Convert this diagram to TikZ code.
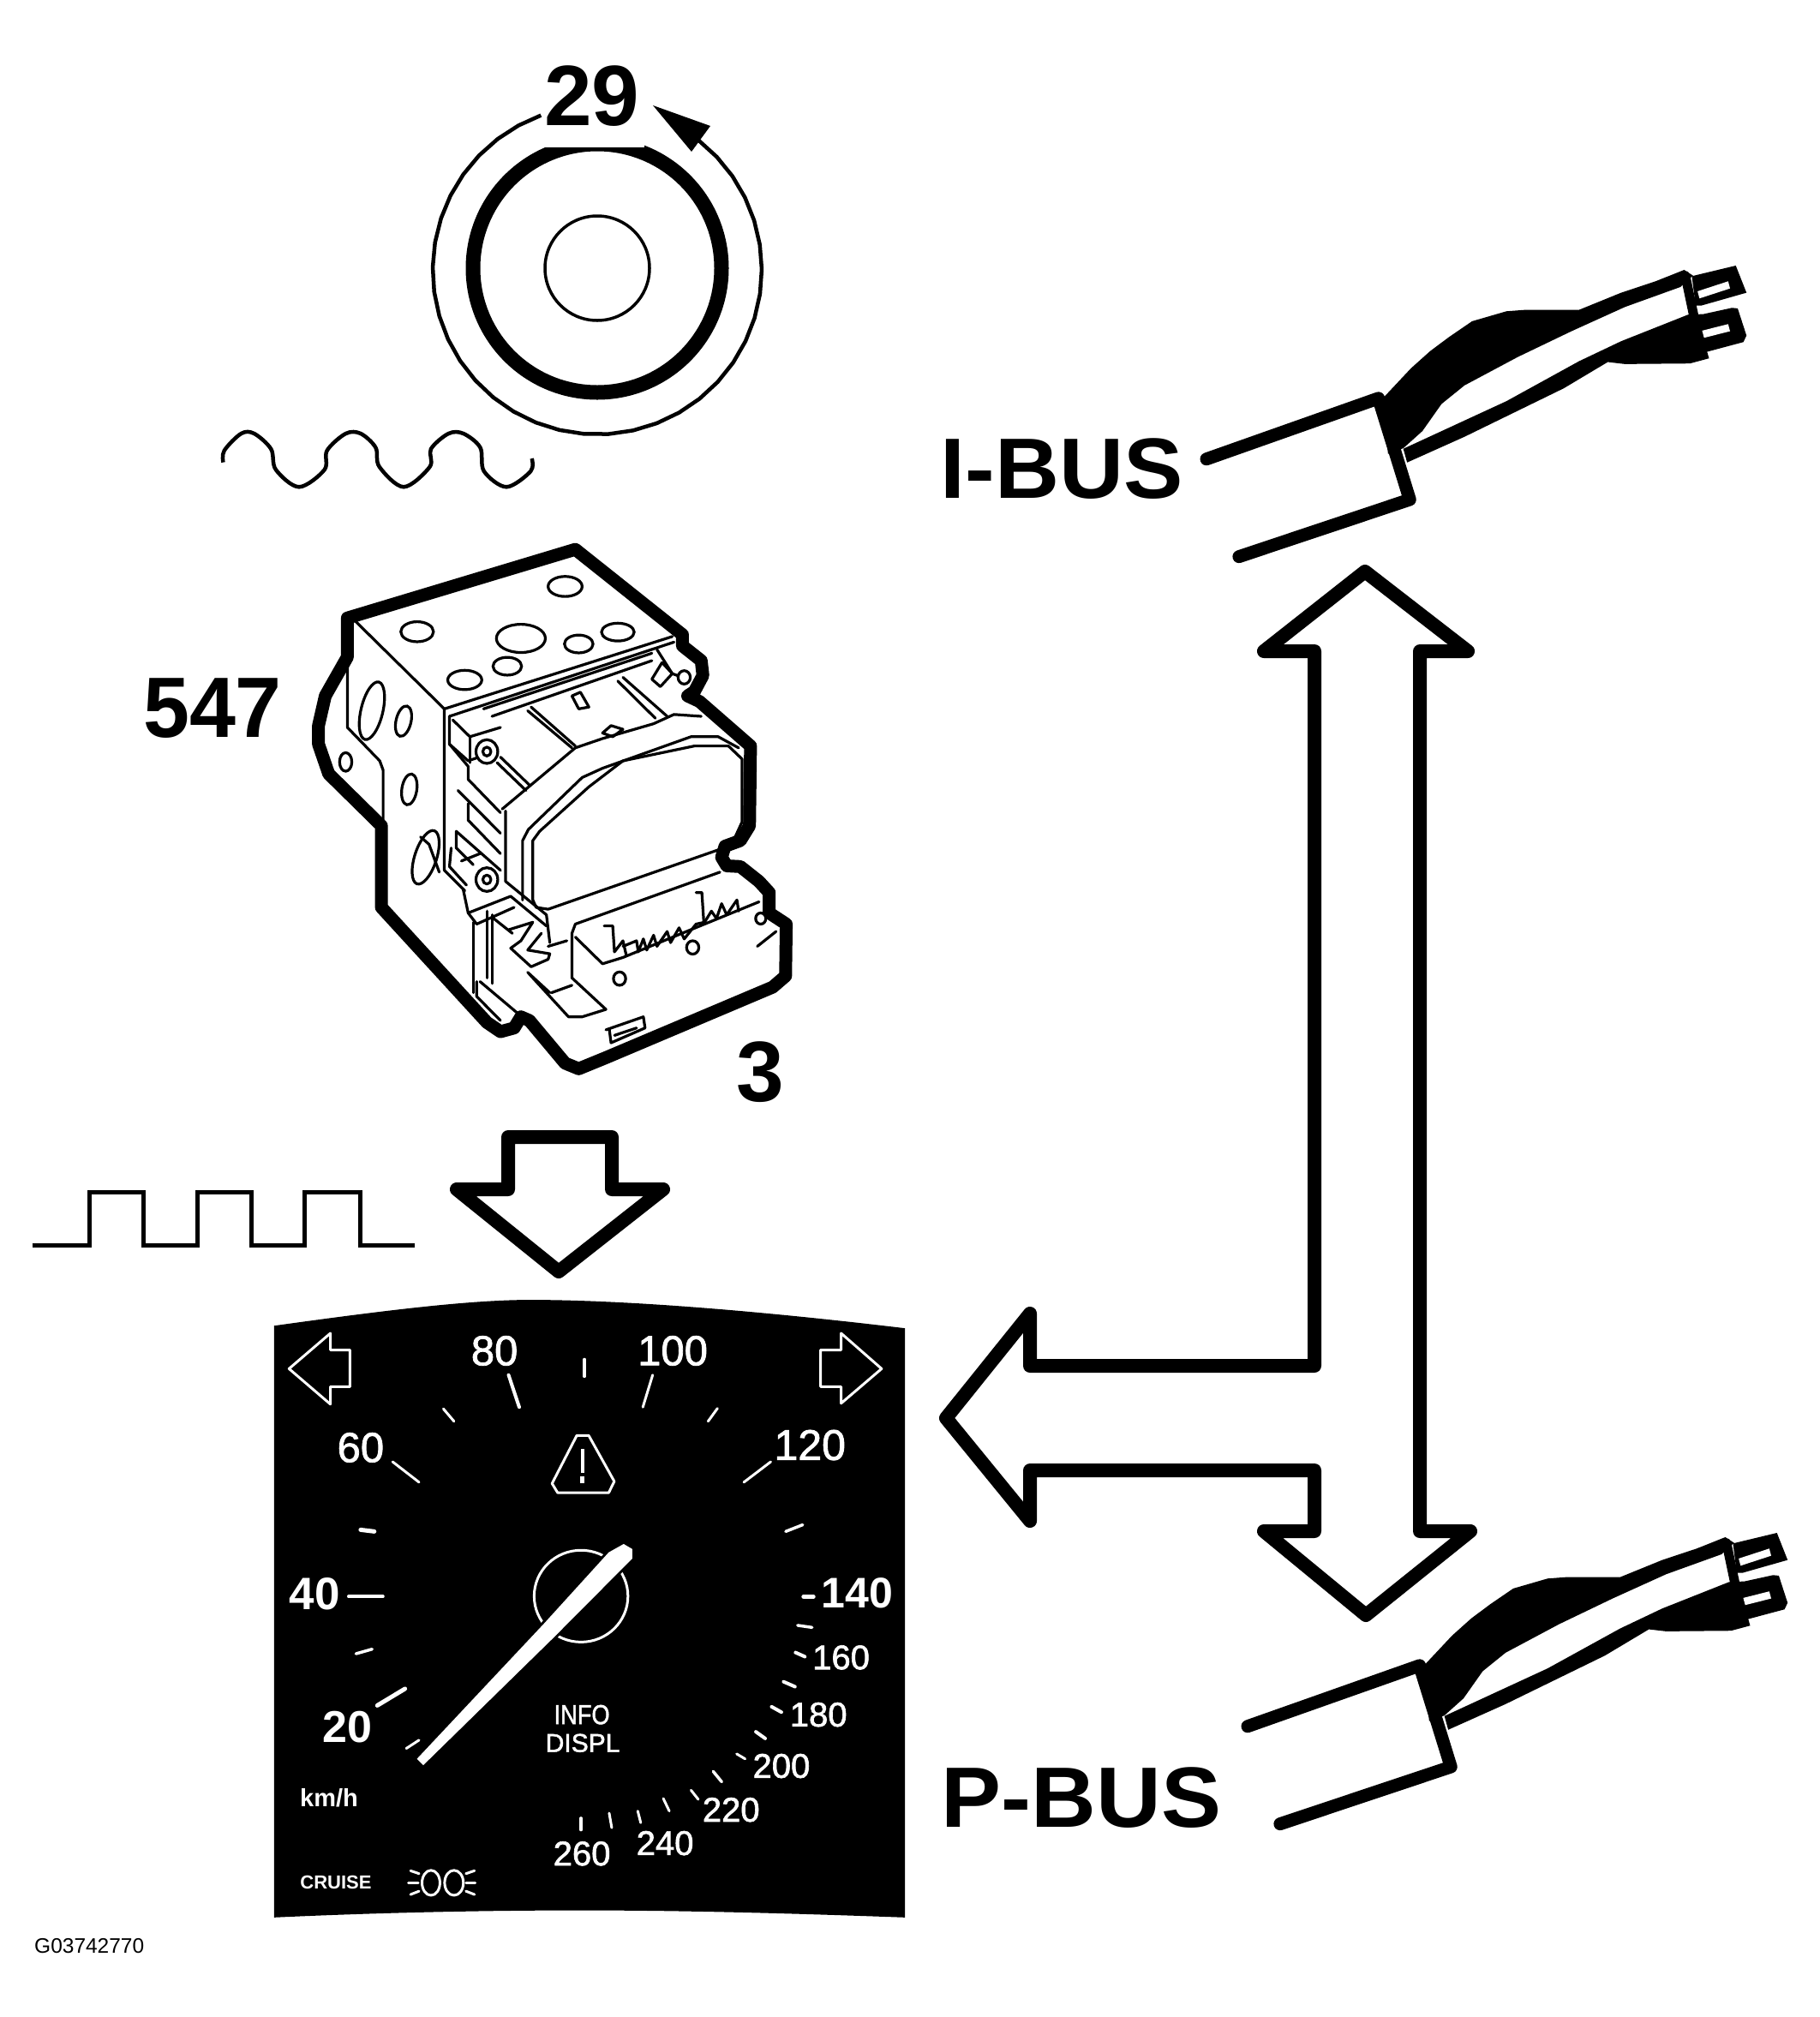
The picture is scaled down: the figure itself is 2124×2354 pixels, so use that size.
\documentclass[tikz,border=0pt]{standalone}
\usepackage{fontspec}
\usepackage{graphicx}
\setmainfont{Liberation Sans}
\newfontfamily\medf[FakeBold=1.6]{Liberation Sans}
\usetikzlibrary{calc}
\newcommand\fsz[1]{\fontsize{#1}{#1}\selectfont}
\tikzset{
  ln/.style={line width=#1,line join=round,line cap=round},
  big/.style={font=\bfseries\fsz{100},inner sep=0pt,anchor=base,text=black},
  dial/.style={font=\medf\fsz{#1},inner sep=0pt,text=white},
  dialb/.style={font=\bfseries\fsz{#1},inner sep=0pt,text=white},
  wt/.style={draw=white,line width=#1,line join=round,line cap=round},
  absl/.style={draw=black,line width=3.2pt,line join=round,line cap=round},
  hole/.style={draw=black,line width=3.2pt,fill=white},
}
\newcommand\busplug{
  \draw[ln=15pt] (65,738) -- (515,525) -- (597,880) -- (150,1080);
  \fill (530,520) -- (600,420) -- (650,360) -- (700,310) -- (760,255) -- (850,220) -- (900,215) -- (1040,215) -- (1150,155) -- (1240,115) -- (1315,75) -- (1338,95) -- (1305,135) -- (1160,205) -- (1020,290) -- (880,380) -- (740,480) -- (680,545) -- (630,640) -- (580,700) -- (540,720) -- cycle;
  \fill (580,702) -- (850,535) -- (1040,395) -- (1150,325) -- (1325,232) -- (1365,230) -- (1440,208) -- (1455,210) -- (1478,305) -- (1470,328) -- (1375,362) -- (1380,385) -- (1330,403) -- (1160,405) -- (1115,398) -- (1000,490) -- (740,660) -- (590,750) -- cycle;
  \draw[line width=11pt,line cap=round] (1318,95) -- (1340,235);
  \fill (1335,97) -- (1450,60) -- (1478,155) -- (1360,200) -- (1345,200) -- cycle;
  \fill[white] (1350,150) -- (1430,115) -- (1435,140) -- (1355,175) -- cycle;
  \fill[white] (1362,288) -- (1430,265) -- (1435,290) -- (1367,313) -- cycle;
}
\begin{document}
\begin{tikzpicture}[x=1pt,y=-1pt]
\useasboundingbox (0,0) rectangle (2124,2354);
\fill[white] (0,0) rectangle (2124,2354);

% rotor wheel
\coordinate (hub) at (697,313);
\draw[line width=17pt] (hub) circle[radius=145pt];
\fill[white] (632,120) rectangle (752,172);
\draw[line width=3.5pt] (hub) circle[radius=61pt];
\draw[line width=4.5pt,line join=round] plot[domain=-52:250,samples=36] ({697+192*cos(\x)},{315+192*sin(\x)});
\fill (762,123) -- (829,147) -- (807,177) -- cycle;
\node[big] (n29) at (691,146) {29};

% sine wave
\begin{scope}[shift={(240,50)},xscale=.436,yscale=.346]
\draw[ln=4.5pt,line cap=butt] plot[smooth,tension=.55] coordinates {(47,1415) (50,1375) (95,1318) (130,1318) (175,1370) (188,1440) (250,1498) (318,1440) (325,1375) (375,1318) (415,1318) (455,1365) (465,1430) (530,1498) (600,1430) (603,1370) (650,1318) (690,1318) (735,1365) (745,1445) (805,1498) (870,1445) (873,1402)};
\end{scope}

\node[big] (n547) at (248,860) {\scalebox{.97}[1]{547}};
\node[big] (n3) at (887,1285) {3};

% hydraulic unit
\begin{scope}[shift={(330,600)},xscale=.397,yscale=.433]
\draw[ln=15pt,fill=white] (190,280) -- (860,95) -- (1175,325) -- (1175,355) -- (1230,395) -- (1235,435) -- (1210,478) -- (1190,490) -- (1225,505) -- (1375,625) -- (1372,840) -- (1345,880) -- (1300,895) -- (1290,925) -- (1305,948) -- (1345,950) -- (1400,990) -- (1430,1020) -- (1430,1075) -- (1480,1105) -- (1478,1245) -- (1440,1275) -- (950,1465) -- (870,1495) -- (830,1480) -- (725,1365) -- (700,1355) -- (680,1385) -- (640,1395) -- (600,1370) -- (290,1060) -- (290,840) -- (135,700) -- (105,620) -- (105,570) -- (125,490) -- (190,385) -- cycle;
% top face
\draw[absl] (215,290) -- (475,525) -- (475,960) -- (535,1015);
\draw[absl] (190,395) -- (190,575) -- (285,665) -- (295,690) -- (295,825);
\draw[absl] (475,525) -- (1145,330);
\draw[absl] (490,545) -- (1150,345);
\draw[absl] (590,525) -- (1085,375);
\draw[absl] (615,545) -- (1085,395);
\foreach \a/\b/\c/\d in {395/317/48/27,700/335/72/38,870/350/42/24,985/318/48/24,660/410/42/24,535/447/50/26,830/195/50/27}{
  \draw[hole] (\a,\b) ellipse[x radius=\c pt,y radius=\d pt];
}
% side holes
\draw[hole,rotate around={-15:(262,530)}] (262,530) ellipse[x radius=32pt,y radius=80pt];
\draw[hole,rotate around={-15:(355,558)}] (355,558) ellipse[x radius=22pt,y radius=42pt];
\draw[hole] (185,668) ellipse[x radius=18pt,y radius=25pt];
\draw[hole,rotate around={-10:(372,742)}] (372,742) ellipse[x radius=22pt,y radius=42pt];
\draw[hole,rotate around={-20:(420,925)}] (420,925) ellipse[x radius=32pt,y radius=76pt];
\draw[absl] (405,870) -- (430,890) -- (460,965);
% front of block
\draw[absl] (490,545) -- (490,620) -- (545,680) -- (545,715) -- (640,805);
\draw[absl] (490,620) -- (545,665) -- (625,640);
\draw[absl] (500,555) -- (550,600) -- (640,575);
\draw[absl] (550,600) -- (550,670);
\draw[absl] (515,745) -- (640,860);
\draw[absl] (545,780) -- (545,825) -- (640,915);
\draw[absl] (510,855) -- (510,900) -- (560,945);
\draw[absl] (510,855) -- (640,960);
\draw[absl] (495,900) -- (490,950) -- (540,1000);
\draw[absl] (525,935) -- (580,915);
\draw[hole] (600,640) circle[radius=32pt];
\draw[absl] (600,640) circle[radius=12pt];
\draw[hole] (600,985) circle[radius=32pt];
\draw[absl] (600,985) circle[radius=12pt];
% ribs on top
\draw[absl] (720,530) -- (850,630);
\draw[absl] (730,520) -- (860,625);
\draw[absl] (640,655) -- (725,730);
\draw[absl] (630,670) -- (715,745);
\draw[absl] (985,450) -- (1095,550);
\draw[absl] (1000,440) -- (1130,545);
\draw[absl] (1100,365) -- (1145,430) -- (1175,440);
\draw[absl] (1115,400) -- (1145,430) -- (1110,465) -- (1085,445) -- (1115,400);
\draw[hole] (1180,440) circle[radius=18pt];
\draw[absl] (850,490) -- (875,480) -- (900,520) -- (870,525) -- (850,490);
\draw[absl] (940,590) -- (965,570) -- (1000,580) -- (970,600) -- cycle;
% cover of the pump
\draw[absl] (645,795) -- (860,630) -- (940,605) -- (1090,565) -- (1150,540) -- (1230,545);
\draw[absl] (655,800) -- (655,990) -- (775,1080) -- (785,1155);
\draw[absl] (705,1040) -- (705,880) -- (722,850) -- (880,710) -- (940,685) -- (1200,600) -- (1280,600) -- (1340,630);
\draw[absl] (735,1040) -- (735,880) -- (755,855) -- (900,735) -- (1000,665) -- (1210,625) -- (1310,625) -- (1350,660) -- (1350,830) -- (1330,870) -- (1280,905) -- (780,1065) -- (745,1060) -- (735,1040);
% connector
\draw[absl] (1285,965) -- (860,1105) -- (850,1130) -- (850,1250) -- (950,1335) -- (880,1355) -- (840,1355) -- (725,1240);
\draw[absl] (860,1140) -- (940,1212) -- (1000,1195) -- (1400,1045);
\draw[absl] (945,1110) -- (970,1110) -- (975,1180) -- (1000,1150) -- (1010,1190);
\draw[absl] (1000,1165) -- (1040,1150) -- (1045,1180) -- (1060,1145) -- (1070,1175) -- (1090,1135) -- (1100,1165) -- (1130,1125) -- (1140,1155) -- (1165,1115) -- (1180,1145) -- (1215,1105) -- (1240,1100) -- (1260,1070) -- (1275,1090) -- (1290,1050) -- (1305,1080) -- (1335,1040) -- (1340,1070);
\draw[absl] (1215,1020) -- (1232,1020) -- (1238,1105);
\draw[hole] (990,1252) circle[radius=18pt];
\draw[hole] (1205,1168) circle[radius=18pt];
\draw[hole] (1405,1090) circle[radius=15pt];
\draw[absl] (1450,1125) -- (1395,1165);
% bracket and latch
\draw[absl] (530,1010) -- (545,1075) -- (670,1030) -- (775,1110);
\draw[absl] (545,1075) -- (570,1105) -- (680,1060);
\draw[absl] (560,1100) -- (560,1290);
\draw[absl] (600,1070) -- (600,1250);
\draw[absl] (615,1080) -- (615,1265);
\draw[absl] (570,1260) -- (570,1300) -- (640,1365);
\draw[absl] (580,1260) -- (690,1345);
\draw[absl] (620,1090) -- (675,1130);
\draw[absl] (665,1120) -- (735,1100) -- (700,1150) -- (670,1170) -- (730,1220) -- (780,1200) -- (785,1185) -- (720,1175) -- (760,1130);
\draw[absl] (780,1165) -- (835,1150);
\draw[absl] (720,1235) -- (785,1290);
\draw[absl] (790,1290) -- (850,1270);
\draw[absl] (950,1390) -- (1060,1355) -- (1065,1385) -- (965,1425) -- (960,1390);
\draw[absl] (975,1405) -- (1040,1385);
\end{scope}

% square wave
\draw[line width=5pt,line join=miter] (37.5,1453.5) -- (104,1453.5) -- (104,1391) -- (167.5,1391) -- (167.5,1453.5) -- (230,1453.5) -- (230,1391) -- (293.5,1391) -- (293.5,1453.5) -- (355,1453.5) -- (355,1391) -- (420,1391) -- (420,1453.5) -- (484,1453.5);

% down arrow
\draw[ln=16pt] (593,1327) -- (714,1327) -- (714,1388) -- (774,1388) -- (652,1484) -- (533,1388) -- (593,1388) -- cycle;

% double headed T arrow
\draw[ln=16pt] (1534,1594) -- (1534,760) -- (1475,760) -- (1593,667) -- (1713,760) -- (1657,760) -- (1657,1787) -- (1716,1787) -- (1594,1885) -- (1475,1787) -- (1534,1787) -- (1534,1716) -- (1202,1716) -- (1202,1775) -- (1104,1655) -- (1202,1533) -- (1202,1594) -- cycle;

% cables
\begin{scope}[shift={(1379,290)},xscale=.446,yscale=.333]
\busplug
\end{scope}
\begin{scope}[shift={(1427,1769)},xscale=.446,yscale=.333]
\busplug
\end{scope}
\node[big] (ibus) at (1239,581) {\scalebox{1.04}[1]{I-BUS}};
\node[big] (pbus) at (1262,2132) {\scalebox{1.05}[1]{P-BUS}};

% instrument panel
\begin{scope}[shift={(300,1500)},xscale=.4975,yscale=.487]
\fill (40,97) .. controls (300,60) and (500,35) .. (640,35) .. controls (900,35) and (1250,70) .. (1520,103) -- (1520,1515) .. controls (1250,1505) and (1000,1498) .. (760,1498) .. controls (500,1498) and (250,1505) .. (40,1515) -- cycle;
% side arrows
\draw[wt=3pt] (75,200) -- (172,115) -- (172,155) -- (218,155) -- (218,243) -- (172,243) -- (172,285) -- cycle;
\draw[wt=3pt] (1465,200) -- (1370,115) -- (1370,155) -- (1322,155) -- (1322,243) -- (1370,243) -- (1370,283) -- cycle;
% ticks
\foreach \a/\b/\c/\d/\w in {768/178/768/218/4,590/215/615/292/4,928/215/905/292/3,437/296/462/326/3,1080/295/1058/326/3,318/423/380/472/3,1205/423/1142/472/3,243/586/275/590/5,1280/574/1240/590/3.5,215/746/295/746/4,1282/746/1305/746/5,1268/815/1302/820/3.5,232/883/270/872/3.5,1263/880/1285/890/4,1235/950/1262/962/4,282/1007/347/967/5,1207/1010/1230/1023/4,1170/1070/1192/1086/4,1125/1123/1145/1135/3,1070/1165/1090/1190/3.5,1018/1210/1035/1232/3,953/1230/967/1260/3,893/1260/900/1288/3,826/1265/832/1300/3,760/1277/760/1305/3.5,350/1110/380/1090/3}{
  \draw[wt=\w pt] (\a,\b) -- (\c,\d);
}
% warning
\draw[wt=3pt] (750,360) -- (778,360) -- (838,470) -- (825,497) -- (705,497) -- (692,475) -- cycle;
\draw[wt=4pt,line cap=butt] (763,393) -- (763,450);
\draw[wt=5pt,line cap=butt] (763,458) -- (763,474);
% hub and needle
\draw[wt=3pt] (760,745) circle[radius=110pt];
\draw[draw=black,line width=6pt,line join=round] (825,640) -- (860,620) -- (880,632) -- (880,655) -- (695,845) -- (390,1150) -- (375,1135) -- (672,812) -- cycle;
\fill[white] (825,640) -- (860,620) -- (880,632) -- (880,655) -- (695,845) -- (390,1150) -- (375,1135) -- (672,812) -- cycle;
% headlamp
\draw[wt=3pt] (408,1432) ellipse[x radius=21pt,y radius=30pt];
\draw[wt=3pt] (462,1432) ellipse[x radius=22pt,y radius=30pt];
\foreach \a/\b/\c/\d in {360/1403/380/1410,355/1432/378/1432,360/1460/380/1452,490/1410/510/1403,490/1432/512/1432,490/1452/510/1460}{
  \draw[wt=3pt] (\a,\b) -- (\c,\d);
}
% numbers
\node[dial=49] (d80) at (557,157) {80};
\node[dial=49] (d100) at (975,157) {100};
\node[dial=49] (d60) at (243,389) {60};
\node[dial=50] (d120) at (1297,383) {120};
\node[dialb=53] (d40) at (135,739) {40};
\node[dialb=50] (d140) at (1408,737) {140};
\node[dial=40] (d160) at (1370,892) {160};
\node[dial=40] (d180) at (1317,1029) {180};
\node[dial=40] (d200) at (1230,1152) {200};
\node[dial=40] (d220) at (1112,1257) {220};
\node[dial=40] (d240) at (957,1337) {240};
\node[dial=40] (d260) at (762,1362) {260};
\node[dialb=52] (d20) at (212,1058) {20};
\node[dial=32] (info) at (762,1029) {\scalebox{.85}[1]{INFO}};
\node[dial=30] (displ) at (764,1097) {DISPL};
\node[dialb=29] (kmh) at (169,1228) {km/h};
\node[dialb=22] (cruise) at (185,1431) {CRUISE};
\end{scope}

\node[font=\fsz{24.5},inner sep=0pt,anchor=base west] (code) at (40,2279) {G03742770};
\end{tikzpicture}
\end{document}
